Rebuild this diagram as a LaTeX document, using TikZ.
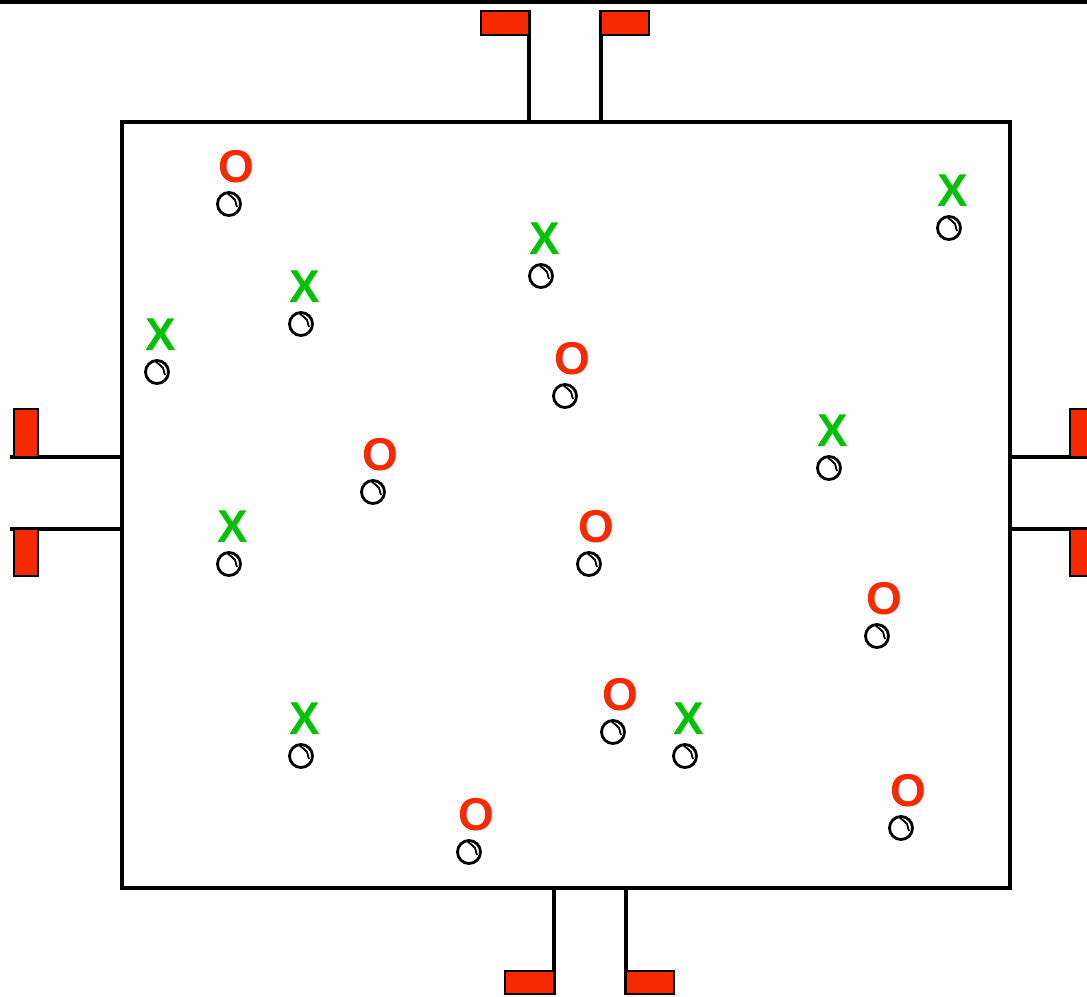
\documentclass[tikz,border=0pt]{standalone}
\usepackage{fontspec}
\setmainfont{Liberation Sans}
\usetikzlibrary{calc}
\definecolor{flagred}{HTML}{F52A00}
\definecolor{markgreen}{HTML}{00C000}
\begin{document}
\begin{tikzpicture}[x=1pt,y=-1pt,
  wall/.style={line width=4.8pt},
  flagbox/.style={fill=flagred,draw=black,line width=2.8pt},
  ball/.style={draw=black,line width=2.8pt,fill=white},
  lbl/.style={font=\fontsize{46}{46}\selectfont\bfseries,inner sep=0pt,anchor=base},
  olbl/.style={lbl,text=flagred},
  xlbl/.style={lbl,text=markgreen}]
\useasboundingbox (0,0) rectangle (1087,996);
% top line
\draw[wall] (0,2) -- (1087,2);
% box
\draw[wall] (122,122) rectangle (1010,888);
% top flags
\draw[wall] (529,10) -- (529,122);
\draw[wall] (601,10) -- (601,122);
\draw[flagbox] (481,11) rectangle (529,35);
\draw[flagbox] (601,11) rectangle (649,35);
% bottom flags
\draw[wall] (554,888) -- (554,995);
\draw[wall] (626,888) -- (626,995);
\draw[flagbox] (505,971) rectangle (554,994);
\draw[flagbox] (626,971) rectangle (674,994);
% left flags
\draw[wall] (10,457) -- (122,457);
\draw[wall] (10,529) -- (122,529);
\draw[flagbox] (14,409) rectangle (38,457);
\draw[flagbox] (14,529) rectangle (38,576);
% right flags
\draw[wall] (1010,457) -- (1087,457);
\draw[wall] (1010,529) -- (1087,529);
\draw[flagbox] (1070,409) rectangle (1094,457);
\draw[flagbox] (1070,529) rectangle (1094,576);
% balls with labels
\foreach \n/\x/\y in {
  b1/229/204, b2/949/228, b3/541/276, b4/301/324,
  b5/157/372, b6/565/396, b7/829/468, b8/373/492,
  b9/229/564, b10/589/564, b11/877/636, b12/613/732,
  b13/685/756, b14/301/756, b15/469/852, b16/901/828}{
  \draw[ball] (\x,\y) circle (11.5);
  \coordinate (\n) at (\x,\y);
  \draw[line width=1.8pt] ($(\n)+(-1,-10)$) -- ($(\n)+(3,-7)$) -- ($(\n)+(6,-4)$) -- ($(\n)+(8,3)$);
}
\foreach \x/\y in {236/166, 572/358, 380/454, 596/526, 884/598, 620/694, 476/814, 908/790}
  \node[olbl] at (\x,\y+16.5) {O};
\foreach \x/\y in {953/190, 545/238, 305/286, 161/334, 833/430, 233/526, 689/718, 305/718}
  \node[xlbl] at (\x,\y+16.5) {X};
\end{tikzpicture}
\end{document}
